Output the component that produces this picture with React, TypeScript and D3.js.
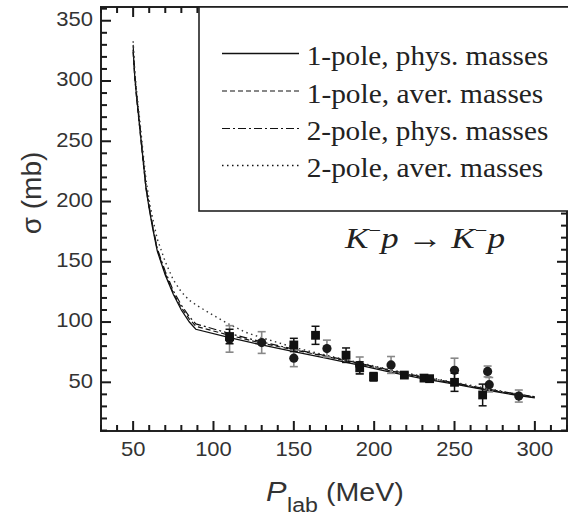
import React from "react";
import * as d3 from "d3";

// ---- data ----
const P1 = [50, 51, 52, 54, 56, 58, 60, 62, 65, 70, 75, 80, 85, 89, 110, 130, 150, 170, 190, 210, 230, 250, 270, 290, 300];
const solid1PolePhys = [326, 304, 289, 263, 237, 211, 194, 179, 159, 139, 123, 110, 100, 94, 87, 81, 75.5, 70, 64.5, 58.5, 53, 48.5, 43.5, 39, 37];
const dashed1PoleAver = [324, 303, 288, 262, 236, 211, 195, 180, 160, 140, 124, 112, 102.5, 96.5, 89, 82.5, 77, 71.5, 65.5, 59.5, 54, 49, 44, 39.5, 37.5];
const dashdot2PolePhys = [330, 306, 291, 266, 239, 213, 196, 181, 161, 142, 126, 114, 104.5, 98.5, 90.5, 83.5, 77.5, 72, 66, 60, 54.5, 49.5, 44.5, 40, 38];
const P2 = [50, 51, 52, 54, 56, 58, 60, 62, 65, 70, 75, 80, 85, 90, 100, 110, 120, 130, 140, 150, 170, 190, 210, 230, 250, 270, 290, 300];
const dotted2PoleAver = [333, 309, 294, 269, 243, 218, 201, 187, 169, 150, 135, 125, 118, 113.5, 105.5, 98, 91.5, 87, 83, 79, 72.5, 66.5, 60.5, 55, 50, 45, 40, 38];

// data points: squares (black error bars)
const sqP = [110, 150, 163.5, 182.5, 191, 199.6, 218.8, 231, 234.5, 250, 267.5];
const sqS = [88, 81, 89, 72.5, 62, 54.6, 56, 53.5, 53, 50, 39.5];
const sqE = [6, 5.5, 7.5, 6, 5, 3.5, 2, 2.5, 2.5, 7.5, 9];
// data points: circles (gray error bars)
const ciP = [110, 130, 150, 170.6, 191, 210.5, 250, 270.6, 271.6, 290];
const ciS = [86, 83, 70, 78, 64, 64.4, 60, 59, 48, 38.6];
const ciE = [11, 9, 7, 7, 7, 7, 10, 4.5, 6, 5];

const xMajor = [50, 100, 150, 200, 250, 300];
const yMajor = [50, 100, 150, 200, 250, 300, 350];
const legendLabels = ["1-pole, phys. masses", "1-pole, aver. masses", "2-pole, phys. masses", "2-pole, aver. masses"];

const W = 568, H = 518;
const L = 101, R = 567, T = 7, B = 431;

export default function App() {
  const x = d3.scaleLinear().domain([30, 320]).range([L, R]);
  const y = d3.scaleLinear().domain([9.6, 361.4]).range([B, T]);
  const xMinor = d3.range(30, 321, 10);
  const yMinor = d3.range(10, 361, 10);

  const line = d3.line<[number, number]>().x(d => x(d[0])).y(d => y(d[1]));
  const series = [
    { p: P1, v: solid1PolePhys, dash: undefined as string | undefined, w: 1.3 },
    { p: P1, v: dashed1PoleAver, dash: "5,3", w: 1.2 },
    { p: P1, v: dashdot2PolePhys, dash: "8,3,2,3", w: 1.2 },
    { p: P2, v: dotted2PoleAver, dash: "1.5,3.5", w: 1.4 },
  ];

  const sx = 1.1;
  const sans = "Liberation Sans, Arial, sans-serif";
  const serif = "Liberation Serif, Times New Roman, serif";

  const legY = [53.5, 91, 128.5, 165.5];
  const legW = [241.6, 236.6, 241.6, 236.6];
  const tlen = (v: number) => (v % 50 === 0 ? 10 : 6);

  return (
    <svg width={W} height={H} style={{ position: "absolute", left: 0, top: 0 }}>
      <rect x={0} y={0} width={W} height={H} fill="#fff" />
      {/* curves */}
      <g fill="none">
        {series.map((s, i) => (
          <path key={i} d={line(s.p.map((p, j) => [p, s.v[j]] as [number, number])) || ""}
            strokeDasharray={s.dash} strokeWidth={s.w} stroke={i === 3 ? "#333" : "#111"} />
        ))}
      </g>
      {/* circles with gray bars */}
      <g>
        {ciP.map((p, i) => (
          <g key={"c" + i}>
            <line x1={x(p)} x2={x(p)} y1={y(ciS[i] - ciE[i])} y2={y(ciS[i] + ciE[i])} stroke="#888" strokeWidth={1.6} />
            <line x1={x(p) - 4} x2={x(p) + 4} y1={y(ciS[i] - ciE[i])} y2={y(ciS[i] - ciE[i])} stroke="#888" strokeWidth={1.6} />
            <line x1={x(p) - 4} x2={x(p) + 4} y1={y(ciS[i] + ciE[i])} y2={y(ciS[i] + ciE[i])} stroke="#888" strokeWidth={1.6} />
            <circle cx={x(p)} cy={y(ciS[i])} r={4.6} fill="#1a1a1a" />
          </g>
        ))}
      </g>
      {/* squares with black bars */}
      <g>
        {sqP.map((p, i) => (
          <g key={"s" + i}>
            <line x1={x(p)} x2={x(p)} y1={y(sqS[i] - sqE[i])} y2={y(sqS[i] + sqE[i])} stroke="#111" strokeWidth={1.5} />
            <line x1={x(p) - 4} x2={x(p) + 4} y1={y(sqS[i] - sqE[i])} y2={y(sqS[i] - sqE[i])} stroke="#111" strokeWidth={1.5} />
            <line x1={x(p) - 4} x2={x(p) + 4} y1={y(sqS[i] + sqE[i])} y2={y(sqS[i] + sqE[i])} stroke="#111" strokeWidth={1.5} />
            <rect x={x(p) - 4.4} y={y(sqS[i]) - 4.4} width={8.8} height={8.8} fill="#111" />
          </g>
        ))}
      </g>
      {/* frame */}
      <rect x={L} y={T} width={R - L} height={B - T} fill="none" stroke="#222" strokeWidth={2} />
      {/* tick labels */}
      <g fontFamily={sans} fontSize={20} fill="#333">
        {xMajor.map(v => (
          <text key={"xl" + v} transform={`translate(${x(v)},456) scale(${sx},1)`} textAnchor="middle">{v}</text>
        ))}
        {yMajor.map(v => (
          <text key={"ylab" + v} transform={`translate(93,${y(v) + 5.3}) scale(${sx},1)`} textAnchor="end">{v}</text>
        ))}
      </g>
      {/* axis titles */}
      <text transform="translate(41,193) rotate(-90)" textAnchor="middle" fontFamily={sans} fontSize={28} fill="#333">σ (mb)</text>
      <g fill="#333" fontFamily={sans}>
        <text transform={`translate(266,501) scale(${sx},1)`} fontSize={28} fontStyle="italic">P</text>
        <text transform={`translate(287,512) scale(${sx},1)`} fontSize={21}>lab</text>
        <text transform={`translate(326,501) scale(${sx},1)`} fontSize={26}>(MeV)</text>
      </g>
      {/* legend */}
      <rect x={199} y={T} width={380} height={211 - T} fill="#fff" stroke="#222" strokeWidth={1.6} />
      {series.map((s, i) => (
        <g key={"lg" + i}>
          <line x1={222} x2={299} y1={legY[i]} y2={legY[i]} stroke="#111" strokeWidth={s.w} strokeDasharray={s.dash} />
          <text x={306.7} y={legY[i] + 11.5} fontFamily={serif} fontSize={27} fill="#222"
            textLength={legW[i]} lengthAdjust="spacingAndGlyphs">{legendLabels[i]}</text>
        </g>
      ))}
      {/* reaction label */}
      <text x={345} y={248} fontFamily={serif} fontSize={30} fontStyle="italic" fill="#222" textLength={160} lengthAdjust="spacingAndGlyphs">
        K<tspan dy={-11} fontSize={19} fontStyle="normal">−</tspan><tspan dy={11}>p</tspan> → K<tspan dy={-11} fontSize={19} fontStyle="normal">−</tspan><tspan dy={11}>p</tspan>
      </text>
      {/* ticks (drawn last, outside the legend region) */}
      <g fill="#1a1a1a">
        {xMinor.map(v => (
          <rect key={"xb" + v} x={x(v) - 1} y={B - tlen(v)} width={2} height={tlen(v)} />
        ))}
        {xMinor.filter(v => x(v) < 199).map(v => (
          <rect key={"xt" + v} x={x(v) - 1} y={T} width={2} height={tlen(v)} />
        ))}
        {yMinor.map(v => (
          <rect key={"yl" + v} x={L} y={y(v) - 1} width={tlen(v)} height={2} />
        ))}
        {yMinor.filter(v => y(v) > 211).map(v => (
          <rect key={"yr" + v} x={R - tlen(v)} y={y(v) - 1} width={tlen(v)} height={2} />
        ))}
      </g>
    </svg>
  );
}
